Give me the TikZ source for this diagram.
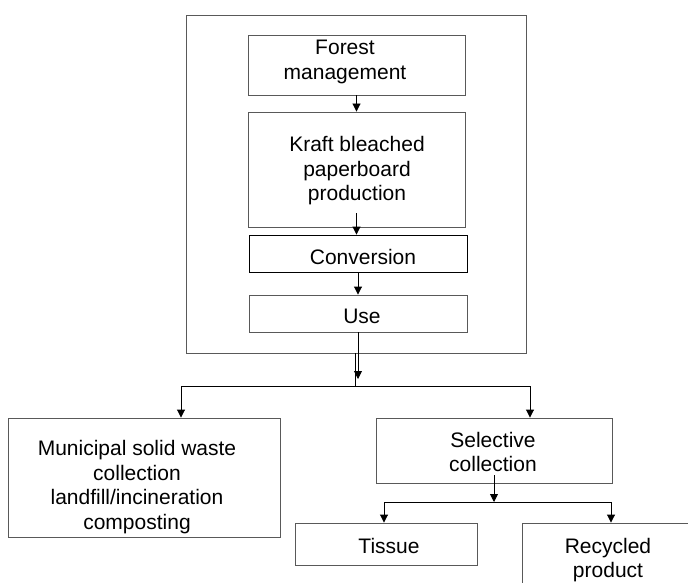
\documentclass[tikz,border=0pt]{standalone}
\usepackage{fontspec}
\setmainfont{Liberation Sans}
\usetikzlibrary{arrows.meta}
\begin{document}
\begin{tikzpicture}[x=1pt,y=-1pt,
  txt/.style={inner sep=0pt, align=center, font=\fontsize{21}{24.5}\selectfont, text=black},
  box/.style={txt, draw=black!65, line width=0.9pt},
  link/.style={line width=0.9pt, draw=black},
  arr/.style={link, -{Triangle[length=8pt,width=8pt]}}]
\useasboundingbox (0,0) rectangle (688,583);
\clip (0,0) rectangle (688,583);
\fill[white] (0,0) rectangle (688,583);
% outer frame and inner chain
\node[box, minimum width=340pt, minimum height=338pt] (outer) at (356,184) {};
\node[box, minimum width=217pt, minimum height=60pt] (forest) at (356.5,65) {};
\node[txt] (forestT) at (345,62) {Forest\\management};
\node[box, minimum width=217pt, minimum height=115pt] (kraft) at (356.5,169.5) {};
\node[txt] (kraftT) at (357,171) {Kraft bleached\\paperboard\\production};
\node[box, draw=black, minimum width=218pt, minimum height=37pt] (conv) at (358,253.5) {};
\node[txt] (convT) at (363,257) {Conversion};
\node[box, minimum width=218pt, minimum height=37pt] (use) at (358,313.5) {};
\node[txt] (useT) at (362,316) {Use};
% lower boxes
\node[box, minimum width=272pt, minimum height=119pt] (msw) at (144,477.5) {};
\node[txt] (mswT) at (137,487) {Municipal solid waste\\collection\\landfill/incineration\\composting};
\node[box, minimum width=236pt, minimum height=65pt] (sel) at (494,450.5) {};
\node[txt] (selT) at (493,452) {Selective\\collection};
\node[box, minimum width=182pt, minimum height=42pt] (tissue) at (386,544) {};
\node[txt] (tissueT) at (389,546) {Tissue};
\node[box, minimum width=173pt, minimum height=68pt] (rec) at (608.5,557) {};
\node[txt] (recT) at (608,560) {Recycled\\product};
% coordinates
\coordinate (b) at (355,386);
\coordinate (bl) at (181,386);
\coordinate (br) at (530,386);
\coordinate (usetip) at (358,379);
\coordinate (c2) at (494,502);
\coordinate (t2l) at (384,502);
\coordinate (t2r) at (611,502);
% connectors
\draw[arr] (forest) -- (kraft);
\draw[arr] ([yshift=14pt]kraft.south) -- (kraft.south |- conv.north);
\draw[arr] (conv) -- (use);
\draw[arr] (use) -- (usetip);
\draw[link] (outer.south -| b) -- (b);
\draw[link] (bl) -- (br);
\draw[arr] (bl) -- (bl |- msw.north);
\draw[arr] (br) -- (br |- sel.north);
\draw[arr] ([yshift=8pt]sel.south) -- (c2);
\draw[link] (t2l) -- (t2r);
\draw[arr] (t2l) -- (t2l |- tissue.north);
\draw[arr] (t2r) -- (t2r |- rec.north);
\end{tikzpicture}
\end{document}
